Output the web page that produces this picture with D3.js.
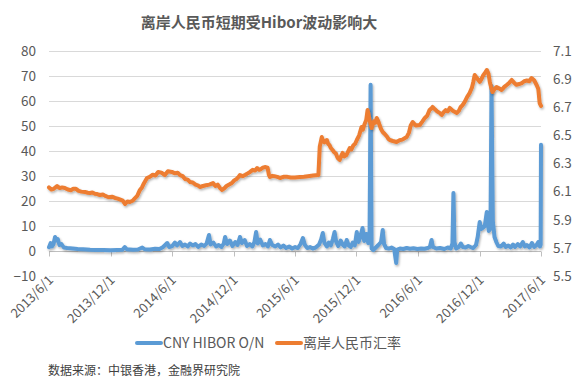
<!DOCTYPE html>
<html>
<head>
<meta charset="utf-8">
<script src="https://cdn.jsdelivr.net/npm/d3@7"></script>
<style>
  body { margin: 0; background: #fff; }
  text { font-family: "Microsoft YaHei", "Noto Sans CJK SC", sans-serif; }
</style>
</head>
<body>
<div id="chart"></div>
<script>
// data
var titleText = '离岸人民币短期受Hibor波动影响大';
var sourceText = '数据来源：中银香港，金融界研究院';
var seriesNames = ['CNY HIBOR O/N', '离岸人民币汇率'];
var leftTicks = [-10, 0, 10, 20, 30, 40, 50, 60, 70, 80];
var rightTicks = [5.5, 5.7, 5.9, 6.1, 6.3, 6.5, 6.7, 6.9, 7.1];
var xTickDates = ['2013-06-01', '2013-12-01', '2014-06-01', '2014-12-01', '2015-06-01',
                  '2015-12-01', '2016-06-01', '2016-12-01', '2017-06-01'];
var xTickLabels = ['2013/6/1', '2013/12/1', '2014/6/1', '2014/12/1', '2015/6/1',
                   '2015/12/1', '2016/6/1', '2016/12/1', '2017/6/1'];

// CNY HIBOR O/N (left axis, %)
var hibor = [
  ['2013-06-01',1.5],['2013-06-06',3.2],['2013-06-10',1.8],['2013-06-14',2.6],['2013-06-19',5.6],
  ['2013-06-23',4.2],['2013-06-27',4.8],['2013-07-02',2.4],['2013-07-08',2.8],['2013-07-15',1.4],
  ['2013-07-25',1.2],['2013-08-10',1.0],['2013-08-25',0.8],['2013-09-10',0.7],['2013-10-01',0.5],
  ['2013-10-20',0.4],['2013-11-10',0.4],['2013-12-01',0.3],['2013-12-20',0.4],['2014-01-05',0.5],
  ['2014-01-12',1.6],['2014-01-18',0.7],['2014-02-05',0.5],['2014-02-20',0.6],['2014-03-05',1.4],
  ['2014-03-12',0.7],['2014-03-28',0.6],['2014-04-12',0.9],['2014-04-25',0.8],['2014-05-05',1.5],
  ['2014-05-12',2.4],['2014-05-18',3.2],['2014-05-24',1.6],['2014-06-02',2.0],['2014-06-10',3.4],
  ['2014-06-16',2.2],['2014-06-25',3.6],['2014-07-02',2.0],['2014-07-10',2.6],['2014-07-18',1.8],
  ['2014-07-25',3.0],['2014-08-02',2.2],['2014-08-10',2.8],['2014-08-18',1.6],['2014-08-27',2.6],
  ['2014-09-05',2.0],['2014-09-12',3.0],['2014-09-19',6.4],['2014-09-24',2.6],['2014-10-02',3.4],
  ['2014-10-10',1.8],['2014-10-18',2.4],['2014-10-26',1.6],['2014-11-02',3.0],['2014-11-06',5.6],
  ['2014-11-12',2.8],['2014-11-20',4.2],['2014-11-28',2.0],['2014-12-06',3.6],['2014-12-13',2.4],
  ['2014-12-20',5.6],['2014-12-26',3.2],['2015-01-03',4.4],['2015-01-10',2.0],['2015-01-18',2.8],
  ['2015-01-26',1.8],['2015-02-01',3.6],['2015-02-06',7.6],['2015-02-11',3.0],['2015-02-18',4.6],
  ['2015-02-26',2.2],['2015-03-06',2.8],['2015-03-13',1.8],['2015-03-19',4.4],['2015-03-26',2.4],
  ['2015-04-04',1.8],['2015-04-12',2.6],['2015-04-20',1.4],['2015-04-28',2.2],['2015-05-06',1.2],
  ['2015-05-15',1.8],['2015-05-24',1.0],['2015-06-02',1.6],['2015-06-10',1.2],['2015-06-18',2.8],
  ['2015-06-25',5.2],['2015-07-01',2.4],['2015-07-08',1.2],['2015-07-16',1.6],['2015-07-24',1.0],
  ['2015-08-02',1.4],['2015-08-12',2.6],['2015-08-18',4.6],['2015-08-23',7.2],['2015-08-28',3.2],
  ['2015-09-04',1.8],['2015-09-10',3.4],['2015-09-16',2.2],['2015-09-22',4.8],['2015-09-27',7.6],
  ['2015-10-02',3.6],['2015-10-08',2.0],['2015-10-15',4.2],['2015-10-21',2.6],['2015-10-27',1.8],
  ['2015-11-02',4.4],['2015-11-08',2.2],['2015-11-14',1.6],['2015-11-20',3.4],['2015-11-26',2.2],
  ['2015-12-02',7.6],['2015-12-07',3.6],['2015-12-12',5.4],['2015-12-19',9.2],['2015-12-24',4.0],
  ['2015-12-30',6.8],['2016-01-05',3.2],['2016-01-09',8.0],['2016-01-12',66.5],['2016-01-15',1.0],
  ['2016-01-20',0.4],['2016-01-26',1.2],['2016-02-04',2.4],['2016-02-12',3.6],['2016-02-17',8.4],
  ['2016-02-21',2.8],['2016-02-27',1.2],['2016-03-06',1.0],['2016-03-14',1.4],['2016-03-22',0.8],
  ['2016-03-28',-4.8],['2016-03-31',0.6],['2016-04-08',1.0],['2016-04-18',0.8],['2016-04-28',1.2],
  ['2016-05-08',0.9],['2016-05-18',1.1],['2016-05-30',0.8],['2016-06-10',1.0],['2016-06-20',0.9],
  ['2016-06-30',1.2],['2016-07-06',1.6],['2016-07-11',4.4],['2016-07-15',1.6],['2016-07-25',1.0],
  ['2016-08-05',1.2],['2016-08-18',0.8],['2016-08-28',1.4],['2016-09-06',1.0],['2016-09-11',3.0],
  ['2016-09-14',23.2],['2016-09-17',3.6],['2016-09-22',1.0],['2016-09-30',1.6],['2016-10-06',3.0],
  ['2016-10-12',1.6],['2016-10-20',1.4],['2016-10-28',2.0],['2016-11-04',1.6],['2016-11-12',1.2],
  ['2016-11-20',2.4],['2016-11-25',5.6],['2016-12-01',11.6],['2016-12-06',8.8],['2016-12-10',9.2],
  ['2016-12-16',10.0],['2016-12-22',15.6],['2016-12-28',8.0],['2017-01-02',9.0],['2017-01-05',66.0],
  ['2017-01-09',12.0],['2017-01-14',5.6],['2017-01-20',3.4],['2017-01-25',2.0],['2017-02-02',1.8],
  ['2017-02-10',3.0],['2017-02-16',1.6],['2017-02-24',2.2],['2017-03-03',1.4],['2017-03-10',2.6],
  ['2017-03-16',1.6],['2017-03-24',2.8],['2017-03-31',1.8],['2017-04-08',3.6],['2017-04-14',1.8],
  ['2017-04-20',2.4],['2017-04-28',1.4],['2017-05-05',3.2],['2017-05-12',1.6],['2017-05-18',2.2],
  ['2017-05-24',3.6],['2017-05-29',1.8],['2017-05-31',2.6],['2017-06-01',42.5]
];

// offshore CNH rate (right axis)
var cnh = [
  ['2013-06-01',6.13],['2013-06-08',6.115],['2013-06-15',6.12],['2013-06-25',6.14],['2013-07-03',6.125],
  ['2013-07-10',6.13],['2013-07-18',6.126],['2013-07-27',6.115],['2013-08-05',6.11],['2013-08-12',6.12],
  ['2013-08-20',6.12],['2013-08-28',6.105],['2013-09-05',6.10],['2013-09-16',6.097],['2013-09-24',6.092],
  ['2013-10-01',6.09],['2013-10-08',6.094],['2013-10-15',6.085],['2013-10-22',6.083],['2013-10-30',6.076],
  ['2013-11-08',6.08],['2013-11-15',6.07],['2013-11-25',6.06],['2013-12-05',6.064],['2013-12-14',6.055],
  ['2013-12-22',6.05],['2013-12-28',6.045],['2014-01-06',6.036],['2014-01-13',6.012],['2014-01-20',6.03],
  ['2014-01-27',6.026],['2014-02-04',6.035],['2014-02-10',6.05],['2014-02-18',6.07],['2014-02-26',6.112],
  ['2014-03-04',6.13],['2014-03-10',6.16],['2014-03-19',6.197],['2014-03-27',6.205],['2014-04-05',6.22],
  ['2014-04-13',6.215],['2014-04-21',6.24],['2014-05-01',6.235],['2014-05-11',6.218],['2014-05-20',6.245],
  ['2014-06-01',6.24],['2014-06-10',6.23],['2014-06-18',6.235],['2014-06-25',6.218],['2014-07-03',6.21],
  ['2014-07-10',6.19],['2014-07-18',6.185],['2014-07-25',6.168],['2014-08-02',6.165],['2014-08-10',6.15],
  ['2014-08-17',6.145],['2014-08-23',6.133],['2014-09-01',6.14],['2014-09-10',6.145],['2014-09-20',6.15],
  ['2014-10-01',6.161],['2014-10-08',6.14],['2014-10-15',6.15],['2014-10-22',6.125],['2014-10-28',6.112],
  ['2014-11-04',6.125],['2014-11-10',6.14],['2014-11-18',6.15],['2014-11-26',6.161],['2014-12-03',6.18],
  ['2014-12-10',6.19],['2014-12-16',6.205],['2014-12-20',6.218],['2014-12-28',6.21],['2015-01-05',6.22],
  ['2015-01-12',6.23],['2015-01-19',6.24],['2015-01-27',6.255],['2015-02-03',6.25],['2015-02-09',6.268],
  ['2015-02-15',6.255],['2015-02-20',6.26],['2015-02-26',6.27],['2015-03-04',6.275],['2015-03-12',6.27],
  ['2015-03-16',6.22],['2015-03-19',6.204],['2015-03-26',6.212],['2015-04-01',6.21],['2015-04-10',6.205],
  ['2015-04-18',6.197],['2015-04-28',6.205],['2015-05-10',6.205],['2015-05-20',6.2],['2015-06-01',6.20],
  ['2015-06-16',6.204],['2015-06-28',6.206],['2015-07-10',6.21],['2015-07-25',6.215],['2015-08-10',6.218],
  ['2015-08-14',6.42],['2015-08-20',6.488],['2015-08-24',6.46],['2015-08-28',6.45],['2015-09-04',6.467],
  ['2015-09-08',6.44],['2015-09-12',6.43],['2015-09-16',6.41],['2015-09-21',6.396],['2015-09-26',6.38],
  ['2015-10-01',6.37],['2015-10-06',6.34],['2015-10-12',6.325],['2015-10-16',6.35],['2015-10-21',6.375],
  ['2015-10-26',6.35],['2015-11-01',6.36],['2015-11-06',6.385],['2015-11-11',6.41],['2015-11-16',6.4],
  ['2015-11-22',6.43],['2015-11-27',6.44],['2015-12-02',6.467],['2015-12-09',6.5],['2015-12-16',6.56],
  ['2015-12-20',6.54],['2015-12-25',6.58],['2015-12-30',6.61],['2016-01-03',6.68],['2016-01-06',6.65],
  ['2016-01-08',6.62],['2016-01-12',6.58],['2016-01-15',6.552],['2016-01-19',6.58],['2016-01-22',6.60],
  ['2016-01-26',6.59],['2016-01-30',6.624],['2016-02-04',6.6],['2016-02-08',6.57],['2016-02-12',6.545],
  ['2016-02-17',6.524],['2016-02-23',6.51],['2016-03-01',6.49],['2016-03-05',6.475],['2016-03-09',6.467],
  ['2016-03-18',6.46],['2016-03-29',6.453],['2016-04-07',6.465],['2016-04-15',6.47],['2016-04-22',6.48],
  ['2016-04-28',6.488],['2016-05-05',6.52],['2016-05-10',6.57],['2016-05-16',6.595],['2016-05-25',6.57],
  ['2016-06-06',6.574],['2016-06-14',6.6],['2016-06-21',6.624],['2016-06-28',6.64],['2016-07-05',6.68],
  ['2016-07-10',6.69],['2016-07-14',6.702],['2016-07-21',6.685],['2016-07-28',6.67],['2016-08-04',6.66],
  ['2016-08-10',6.645],['2016-08-16',6.665],['2016-08-22',6.68],['2016-08-28',6.67],['2016-09-03',6.695],
  ['2016-09-12',6.675],['2016-09-24',6.659],['2016-09-30',6.675],['2016-10-05',6.70],['2016-10-11',6.715],
  ['2016-10-17',6.737],['2016-10-24',6.77],['2016-11-01',6.801],['2016-11-08',6.84],['2016-11-12',6.88],
  ['2016-11-16',6.929],['2016-11-22',6.91],['2016-12-01',6.88],['2016-12-06',6.9],['2016-12-12',6.93],
  ['2016-12-17',6.945],['2016-12-22',6.965],['2016-12-27',6.94],['2016-12-31',6.88],['2017-01-04',6.84],
  ['2017-01-08',6.808],['2017-01-14',6.83],['2017-01-20',6.844],['2017-01-27',6.835],['2017-02-04',6.823],
  ['2017-02-12',6.845],['2017-02-20',6.86],['2017-02-27',6.875],['2017-03-06',6.894],['2017-03-13',6.875],
  ['2017-03-20',6.86],['2017-03-28',6.865],['2017-04-05',6.872],['2017-04-12',6.885],['2017-04-20',6.89],
  ['2017-04-27',6.885],['2017-05-04',6.908],['2017-05-12',6.89],['2017-05-19',6.858],['2017-05-24',6.83],
  ['2017-05-28',6.73],['2017-06-01',6.71]
];

var colors = ['#5b9bd5', '#ed7d31'];

var width = 580, height = 388;
var plotLeft = 49, plotRight = 541, plotTop = 51, plotBottom = 276;
var parse = d3.timeParse('%Y-%m-%d');
var fontStack = '"Microsoft YaHei", "Noto Sans CJK SC", sans-serif';

var svg = d3.select('#chart').append('svg')
  .attr('width', width)
  .attr('height', height);

svg.append('rect').attr('width', width).attr('height', height).attr('fill', '#fff');

// soft shadow like the office chart
var defs = svg.append('defs');
defs.append('filter').attr('id', 'shadow')
  .attr('x', '-5%').attr('y', '-5%').attr('width', '110%').attr('height', '110%')
  .append('feDropShadow')
  .attr('dx', 1).attr('dy', 1.5).attr('stdDeviation', 1)
  .attr('flood-color', '#000').attr('flood-opacity', 0.3);

var x = d3.scaleTime()
  .domain([parse('2013-06-01'), parse('2017-06-01')])
  .range([plotLeft, plotRight]);
var yLeft = d3.scaleLinear().domain([-10, 80]).range([plotBottom, plotTop]);
var yRight = d3.scaleLinear().domain([5.5, 7.1]).range([plotBottom, plotTop]);

// title
svg.append('text')
  .attr('x', 259).attr('y', 28)
  .attr('text-anchor', 'middle')
  .attr('font-size', 15).attr('font-weight', 'bold')
  .attr('fill', '#595959')
  .text(titleText);

// gridlines
svg.append('g').selectAll('line')
  .data(leftTicks)
  .enter().append('line')
  .attr('x1', plotLeft).attr('x2', plotRight)
  .attr('y1', function(d) { return Math.round(yLeft(d)) + 0.5; })
  .attr('y2', function(d) { return Math.round(yLeft(d)) + 0.5; })
  .attr('stroke', '#d9d9d9').attr('stroke-width', 1);

// left axis
var leftAxis = svg.append('g')
  .attr('transform', 'translate(' + (plotLeft - 13) + ',0)')
  .call(d3.axisLeft(yLeft).tickValues(leftTicks).tickSize(0).tickPadding(0));
leftAxis.select('.domain').remove();
leftAxis.selectAll('text').attr('font-size', 13.5).attr('fill', '#595959')
  .style('font-family', fontStack);

// right axis
var rightAxis = svg.append('g')
  .attr('transform', 'translate(' + (plotRight + 12) + ',0)')
  .call(d3.axisRight(yRight).tickValues(rightTicks).tickSize(0).tickPadding(0)
    .tickFormat(d3.format('.1f')));
rightAxis.select('.domain').remove();
rightAxis.selectAll('text').attr('font-size', 13.5).attr('fill', '#595959')
  .style('font-family', fontStack);

// x axis crosses at zero, labels sit low
var zeroY = Math.round(yLeft(0)) + 0.5;
svg.append('line')
  .attr('x1', plotLeft).attr('x2', plotRight)
  .attr('y1', zeroY).attr('y2', zeroY)
  .attr('stroke', '#bfbfbf');
svg.append('g').selectAll('line')
  .data(xTickDates)
  .enter().append('line')
  .attr('x1', function(d) { return Math.round(x(parse(d))) + 0.5; })
  .attr('x2', function(d) { return Math.round(x(parse(d))) + 0.5; })
  .attr('y1', zeroY).attr('y2', zeroY + 5)
  .attr('stroke', '#bfbfbf');

svg.append('g').selectAll('text')
  .data(xTickDates)
  .enter().append('text')
  .attr('transform', function(d) {
    return 'translate(' + (x(parse(d)) + 5) + ',' + 281 + ') rotate(-45)';
  })
  .attr('text-anchor', 'end')
  .attr('font-size', 13)
  .attr('fill', '#595959')
  .text(function(d, i) { return xTickLabels[i]; });

// series
var hiborLine = d3.line()
  .x(function(d) { return x(parse(d[0])); })
  .y(function(d) { return yLeft(d[1]); });
var cnhLine = d3.line()
  .x(function(d) { return x(parse(d[0])); })
  .y(function(d) { return yRight(d[1]); });

svg.append('path')
  .datum(hibor)
  .attr('d', hiborLine)
  .attr('fill', 'none')
  .attr('stroke', colors[0])
  .attr('stroke-width', 4)
  .attr('stroke-linejoin', 'round')
  .attr('stroke-linecap', 'round')
  .attr('filter', 'url(#shadow)');

svg.append('path')
  .datum(cnh)
  .attr('d', cnhLine)
  .attr('fill', 'none')
  .attr('stroke', colors[1])
  .attr('stroke-width', 4)
  .attr('stroke-linejoin', 'round')
  .attr('stroke-linecap', 'round')
  .attr('filter', 'url(#shadow)');

// legend
var legendItems = [
  { name: seriesNames[0], color: colors[0], x: 137 },
  { name: seriesNames[1], color: colors[1], x: 277 }
];
var legend = svg.append('g').selectAll('g')
  .data(legendItems)
  .enter().append('g')
  .attr('transform', function(d) { return 'translate(' + d.x + ',343)'; });
legend.append('line')
  .attr('x1', 0).attr('x2', 24)
  .attr('stroke', function(d) { return d.color; })
  .attr('stroke-width', 4)
  .attr('stroke-linecap', 'round');
legend.append('text')
  .attr('x', 26).attr('y', 5)
  .attr('font-size', 14)
  .attr('fill', '#595959')
  .text(function(d) { return d.name; });

// source note
svg.append('text')
  .attr('x', 48).attr('y', 375)
  .attr('font-size', 12)
  .attr('fill', '#404040')
  .text(sourceText);
</script>
</body>
</html>
